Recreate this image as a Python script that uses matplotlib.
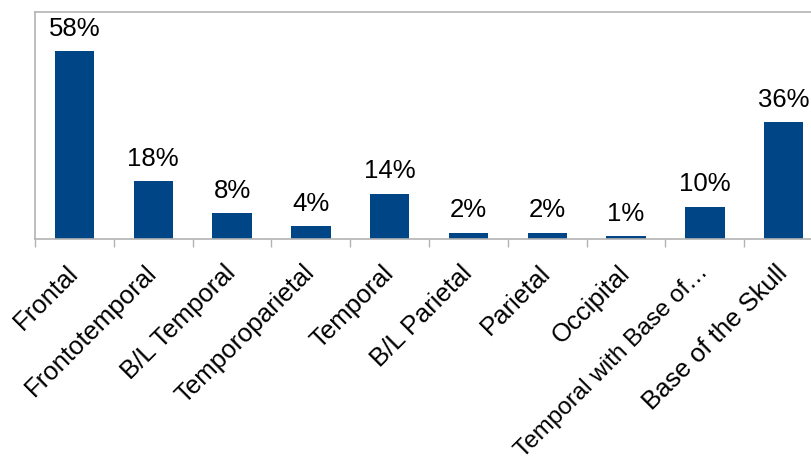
import numpy as np
import matplotlib.pyplot as plt

plt.rcParams['font.family'] = ['Liberation Sans', 'DejaVu Sans']

regions = ["Frontal", "Frontotemporal", "B/L Temporal", "Temporoparietal", "Temporal",
           "B/L Parietal", "Parietal", "Occipital", "Temporal with Base of\u2026", "Base of the Skull"]
percent = [58, 18, 8, 4, 14, 2, 2, 1, 10, 36]

fig = plt.figure(figsize=(8.11, 4.64), dpi=100)
ax = fig.add_axes([35 / 811, 1 - 240 / 464, 788 / 811, 227 / 464])

x = np.arange(len(regions))
ax.bar(x, percent, width=0.5, color="#004586", zorder=2)
for xi, v in zip(x, percent):
    ax.annotate(f"{v}%", (xi, v), xytext=(0, 8), textcoords="offset points",
                ha="center", va="bottom", fontsize=18.5)

ax.set_xlim(-0.5, len(regions) - 0.5)
ax.set_ylim(0, 70)
ax.set_yticks([])

ax.set_xticks(x)
ax.set_xticklabels(regions, rotation=45, ha="right", va="center", rotation_mode="anchor", fontsize=18.5)
ax.tick_params(axis="x", which="major", length=0, pad=21)
ax.set_xticks(np.arange(-0.5, len(regions)), minor=True)
ax.tick_params(axis="x", which="minor", length=6, color="#b3b3b3", width=1)
# longest label is clipped in the original; shrink it a little so it fits
ax.get_xticklabels()[8].set_fontsize(17.5)

for s in ax.spines.values():
    s.set_color("#b3b3b3")
    s.set_linewidth(1.2)

fig.savefig("out.png", dpi=100)
